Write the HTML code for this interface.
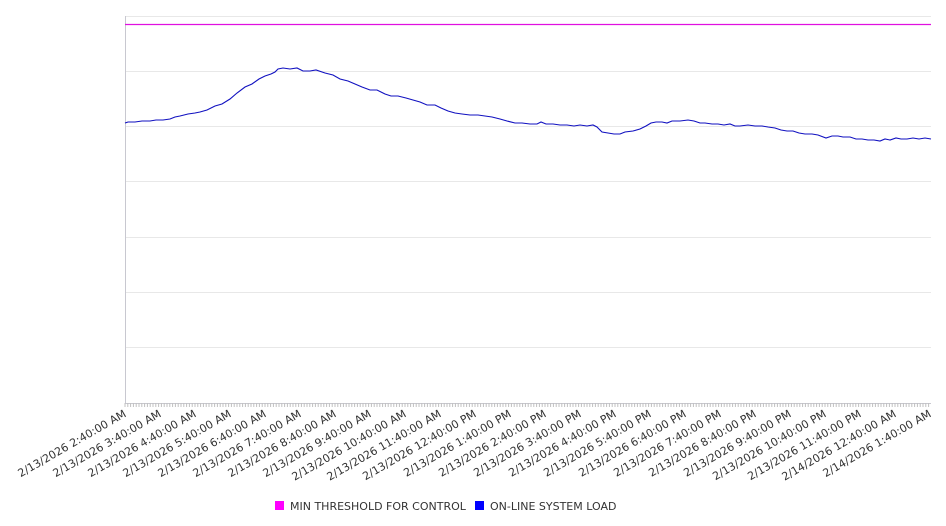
<!DOCTYPE html>
<html><head><style>
body{margin:0;background:#fff;}
svg{display:block;font-family:"DejaVu Sans","Liberation Sans",sans-serif;}
</style></head><body>
<svg width="946" height="526" viewBox="0 0 946 526">
<g stroke="#e8e8e8" stroke-width="1">
<line x1="125" y1="16.5" x2="931" y2="16.5"/>
<line x1="125" y1="71.5" x2="931" y2="71.5"/>
<line x1="125" y1="126.5" x2="931" y2="126.5"/>
<line x1="125" y1="181.5" x2="931" y2="181.5"/>
<line x1="125" y1="237.5" x2="931" y2="237.5"/>
<line x1="125" y1="292.5" x2="931" y2="292.5"/>
<line x1="125" y1="347.5" x2="931" y2="347.5"/>
</g>
<line x1="125.5" y1="16" x2="125.5" y2="404" stroke="#c8c8d0"/>
<line x1="125" y1="403.5" x2="931" y2="403.5" stroke="#c8c8d0"/>
<g id="ticks" stroke="#c0c0c0"></g>
<line x1="125" y1="24.5" x2="931" y2="24.5" stroke="#e010e0" stroke-width="1.2"/>
<polyline fill="none" stroke="#1010c0" stroke-width="1.1" points="125,123 128,122 135,122 142,121 150,121 156,120 163,120 170,119 175,117 180,116 188,114 195,113 200,112 207,110 215,106 222,104 230,99 237,93 245,87 252,84 259,79 265,76 271,74 275,72 278,69 283,68 290,69 297,68 303,71 310,71 316,70 325,73 333,75 340,79 348,81 355,84 362,87 370,90 377,90 385,94 391,96 398,96 406,98 413,100 420,102 427,105 435,105 441,108 448,111 455,113 462,114 470,115 478,115 485,116 492,117 500,119 507,121 515,123 522,123 530,124 537,124 541,122 546,124 553,124 560,125 567,125 574,126 580,125 587,126 593,125 597,127 602,132 608,133 614,134 620,134 625,132 633,131 640,129 646,126 651,123 656,122 662,122 667,123 672,121 680,121 688,120 694,121 700,123 705,123 712,124 718,124 724,125 730,124 735,126 740,126 748,125 755,126 762,126 768,127 775,128 781,130 787,131 793,131 799,133 805,134 812,134 818,135 826,138 832,136 838,136 843,137 850,137 856,139 862,139 868,140 874,140 880,141 885,139 890,140 896,138 901,139 907,139 913,138 919,139 925,138 931,139"/>
<g id="labels" font-size="11" fill="#333"></g>
<rect x="275" y="501" width="9" height="9" fill="#ff00ff"/>
<text x="290" y="510" font-size="11" fill="#333">MIN THRESHOLD FOR CONTROL</text>
<rect x="475" y="501" width="9" height="9" fill="#0000ff"/>
<text x="490" y="510" font-size="11" fill="#333">ON-LINE SYSTEM LOAD</text>
</svg>
<script>
var ns="http://www.w3.org/2000/svg";
var t=document.getElementById("ticks");
for(var x=125;x<=931;x+=2.8){var l=document.createElementNS(ns,"line");l.setAttribute("x1",x.toFixed(1));l.setAttribute("x2",x.toFixed(1));l.setAttribute("y1","403");l.setAttribute("y2","407");t.appendChild(l);}
var g=document.getElementById("labels");
var times=["2:40:00 AM","3:40:00 AM","4:40:00 AM","5:40:00 AM","6:40:00 AM","7:40:00 AM","8:40:00 AM","9:40:00 AM","10:40:00 AM","11:40:00 AM","12:40:00 PM","1:40:00 PM","2:40:00 PM","3:40:00 PM","4:40:00 PM","5:40:00 PM","6:40:00 PM","7:40:00 PM","8:40:00 PM","9:40:00 PM","10:40:00 PM","11:40:00 PM","12:40:00 AM","1:40:00 AM"];
for(var i=0;i<24;i++){var x=127+i*35.0;var s=(i>=22?"2/14/2026 ":"2/13/2026 ")+times[i];
var tx=document.createElementNS(ns,"text");tx.setAttribute("text-anchor","end");
tx.setAttribute("transform","translate("+x+",416) rotate(-30)");tx.textContent=s;g.appendChild(tx);}
</script>
</body></html>
